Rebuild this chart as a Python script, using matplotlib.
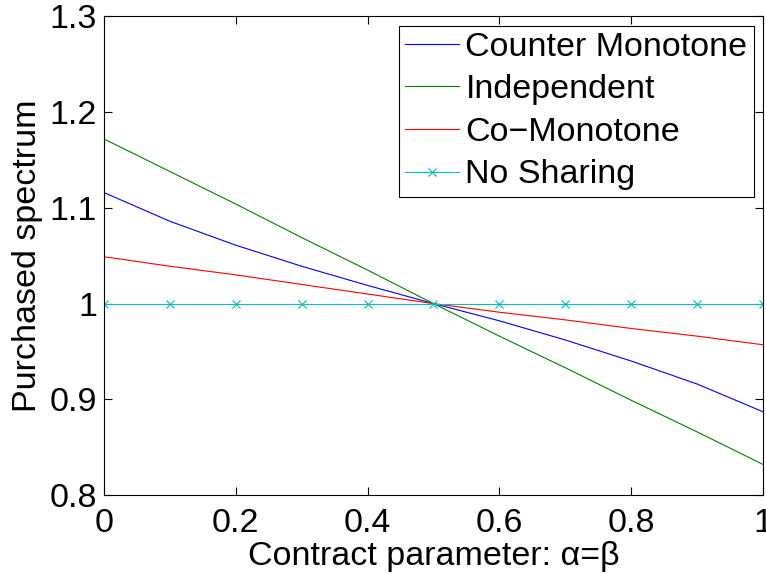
import matplotlib
matplotlib.use("Agg")
import matplotlib.pyplot as plt

plt.rcParams['font.family'] = ['Liberation Sans', 'DejaVu Sans']

alpha = [0.0, 0.1, 0.2, 0.3, 0.4, 0.5, 0.6, 0.7, 0.8, 0.9, 1.0]
counter_monotone = [1.116, 1.086, 1.061, 1.039, 1.019, 1.0, 0.982, 0.962, 0.940, 0.916, 0.887]
independent = [1.172, 1.138, 1.104, 1.069, 1.035, 1.0, 0.966, 0.933, 0.899, 0.866, 0.832]
co_monotone = [1.049, 1.039, 1.030, 1.020, 1.010, 1.0, 0.991, 0.983, 0.974, 0.966, 0.957]
no_sharing = [1.0] * 11

FS = 24.5

fig = plt.figure(figsize=(7.66, 5.74), dpi=100)
ax = fig.add_axes([0.1358, 0.1376, 0.8602, 0.8337])

ax.plot(alpha, counter_monotone, color=(0, 0, 1), lw=0.8, label='Counter Monotone')
ax.plot(alpha, independent, color=(0, 0.5, 0), lw=0.8, label='Independent')
ax.plot(alpha, co_monotone, color=(1, 0, 0), lw=0.8, label='Co\u2212Monotone')
ax.plot(alpha, no_sharing, color=(0, 0.75, 0.75), lw=0.8, marker='x', ms=5.5, mew=0.8, label='No Sharing')

ax.set_xlim(0, 1)
ax.set_ylim(0.8, 1.3)
ax.set_xticks([0, 0.2, 0.4, 0.6, 0.8, 1])
ax.set_xticklabels(['0', '0.2', '0.4', '0.6', '0.8', '1'])
ax.set_yticks([0.8, 0.9, 1.0, 1.1, 1.2, 1.3])
ax.set_yticklabels(['0.8', '0.9', '1', '1.1', '1.2', '1.3'])
ax.tick_params(direction='in', top=True, right=True, labelsize=FS, length=6, width=0.8)
ax.tick_params(axis='x', pad=9)
ax.tick_params(axis='y', pad=5)
for s in ax.spines.values():
    s.set_linewidth(0.8)

ax.set_xlabel('Contract parameter: \u03b1=\u03b2', fontsize=FS, labelpad=2)
ax.set_ylabel('Purchased spectrum', fontsize=FS, labelpad=4.5)

leg = ax.legend(loc='upper right', fontsize=FS, fancybox=False, edgecolor='black',
                framealpha=1, handlelength=1.6, handletextpad=0.18, borderpad=0.18,
                labelspacing=0.34, borderaxespad=0.27)
leg.get_frame().set_linewidth(0.8)

fig.savefig('out.png', dpi=100)
